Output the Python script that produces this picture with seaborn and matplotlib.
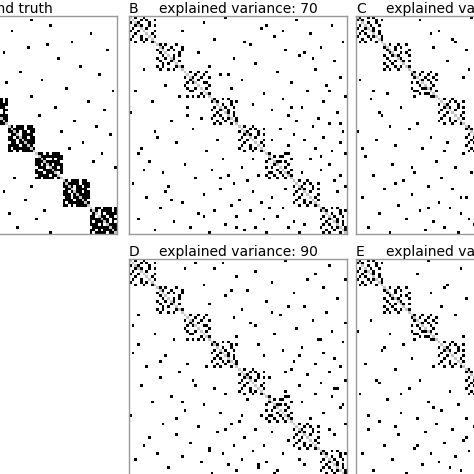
import numpy as np
import matplotlib
matplotlib.use("Agg")
import matplotlib.pyplot as plt
import seaborn as sns
from matplotlib.colors import ListedColormap

N = 80
BLOCK = 10

# block patterns
dense_a = ["##.###.##.", "#.####.###", "####.##.##", ".###.####.", "##.####.##",
           "###.#.####", ".##.######", "####.##.#.", "#.######.#", "##.#.#####"]
dense_b = ["#.##.###.#", "###.####.#", ".##.#.####", "##.###.##.", "####.##.##",
           "#.#####.#.", "###.#.####", ".######.##", "##.#.#####", "#.####.##."]
sparse_a = ["#.#..#....", ".#..#.#..#", "#..#...#..", "..#.#..#.#", ".#....#...",
            "#..#.#...#", "..#...#.#.", ".#..#....#", "#...#.#...", "..#..#..#."]
sparse_b = [".#..#.#...", "#.#....#.#", "..#.#..#..", ".#...#..#.", "#..#..#...",
            "..#...#.#.", ".#.#....#.", "#...#.#..#", "..#..#...#", ".#.#...#.."]

# off-block edges (row, col), mirrored
gt_rows = [2, 3, 5, 6, 8, 9, 11, 12, 14, 15, 17, 18, 20, 21, 23, 24, 26, 27, 29, 31, 33, 34, 36, 38, 40, 42, 43, 46, 48, 50, 53, 55, 4, 7, 13, 19, 1, 10]
gt_cols = [30, 55, 41, 70, 22, 63, 47, 76, 35, 58, 29, 66, 44, 73, 52, 39, 61, 78, 48, 69, 57, 75, 51, 64, 72, 59, 77, 67, 62, 74, 71, 79, 15, 26, 38, 33, 48, 54]

b_rows = [0, 1, 2, 3, 4, 5, 6, 7, 8, 9, 10, 11, 12, 13, 14, 15, 16, 17, 18, 19, 20, 21, 22, 23, 24, 25, 26, 27, 28, 29,
          30, 31, 32, 33, 34, 35, 36, 37, 38, 39, 40, 41, 42, 43, 44, 45, 46, 47, 48, 49, 50, 52, 54, 56, 58, 60, 62, 64, 3, 9, 15, 21, 27, 33, 39, 45, 51, 57, 5, 13]
b_cols = [35, 61, 27, 74, 48, 19, 66, 53, 31, 78, 44, 70, 57, 25, 62, 38, 75, 46, 29, 68, 54, 33, 77, 41, 59, 72, 37, 65, 49, 79,
          56, 71, 45, 63, 52, 76, 58, 69, 61, 73, 67, 55, 78, 60, 71, 64, 77, 58, 68, 74, 79, 66, 73, 70, 77, 75, 79, 76, 50, 42, 67, 36, 73, 59, 77, 52, 70, 63, 56, 64]

c_rows = [0, 1, 2, 3, 4, 5, 6, 7, 8, 9, 10, 11, 12, 13, 14, 15, 16, 17, 18, 19, 20, 21, 22, 23, 24, 25, 26, 27, 28, 29,
          30, 31, 32, 33, 34, 35, 36, 37, 38, 39, 40, 41, 42, 43, 44, 45, 46, 47, 48, 49, 51, 53, 55, 57, 59, 61, 63, 65, 2, 8, 14, 20, 26, 32, 38, 44, 50, 56, 6, 12]
c_cols = [42, 23, 66, 51, 77, 30, 58, 45, 72, 36, 63, 28, 79, 54, 47, 69, 33, 60, 74, 41, 65, 57, 39, 71, 48, 78, 62, 44, 75, 53,
          68, 59, 77, 46, 70, 63, 55, 79, 72, 50, 66, 74, 57, 76, 69, 61, 78, 65, 73, 71, 75, 67, 79, 72, 77, 74, 78, 76, 48, 35, 61, 55, 70, 49, 66, 58, 74, 69, 27, 40]

d_rows = [0, 1, 2, 3, 4, 5, 6, 7, 8, 9, 10, 11, 12, 13, 14, 15, 16, 17, 18, 19, 20, 21, 22, 23, 24, 25, 26, 27, 28, 29,
          30, 31, 32, 33, 34, 35, 36, 37, 38, 39, 40, 41, 42, 43, 44, 45, 46, 47, 48, 49, 50, 52, 54, 56, 58, 60, 62, 64, 1, 7, 11, 17, 23, 29, 35, 41, 47, 53, 3, 19]
d_cols = [57, 34, 73, 20, 46, 68, 39, 79, 52, 27, 71, 43, 60, 35, 76, 50, 29, 64, 41, 72, 55, 38, 67, 79, 46, 61, 74, 53, 39, 70,
          78, 47, 63, 56, 71, 49, 75, 60, 68, 77, 59, 73, 65, 51, 79, 70, 62, 76, 57, 68, 74, 63, 77, 71, 66, 79, 73, 75, 24, 65, 37, 58, 44, 69, 62, 57, 75, 78, 31, 52]

e_rows = [0, 1, 2, 3, 4, 5, 6, 7, 8, 9, 10, 11, 12, 13, 14, 15, 16, 17, 18, 19, 20, 21, 22, 23, 24, 25, 26, 27, 28, 29,
          30, 31, 32, 33, 34, 35, 36, 37, 38, 39, 40, 41, 42, 43, 44, 45, 46, 47, 48, 49, 51, 53, 55, 57, 59, 61, 63, 65, 4, 10, 16, 22, 28, 34, 40, 46, 52, 58, 8, 14]
e_cols = [26, 49, 71, 38, 62, 22, 77, 44, 59, 33, 68, 51, 27, 73, 40, 64, 56, 31, 78, 47, 36, 69, 58, 44, 75, 63, 52, 71, 39, 60,
          74, 55, 67, 79, 48, 62, 72, 53, 77, 66, 58, 70, 79, 61, 73, 56, 67, 78, 71, 63, 76, 69, 74, 66, 79, 72, 77, 75, 57, 32, 49, 68, 54, 76, 65, 79, 73, 68, 45, 61]

panels = [
    ("A", "Ground truth", [dense_a, dense_b], gt_rows, gt_cols, (-101, 16)),
    ("B", "explained variance: 70", [sparse_a, sparse_b], b_rows, b_cols, (129, 16)),
    ("C", "explained variance: 80", [sparse_b, sparse_a], c_rows, c_cols, (356, 16)),
    ("D", "explained variance: 90", [sparse_a, sparse_b], d_rows, d_cols, (129, 259)),
    ("E", "explained variance: 95", [sparse_b, sparse_a], e_rows, e_cols, (356, 259)),
]


def build(patterns, rows, cols):
    m = np.zeros((N, N))
    for k in range(N // BLOCK):
        pat = patterns[k % len(patterns)]
        blk = np.array([[c == "#" for c in r] for r in pat], dtype=float)
        if k % 3 == 2:
            blk = blk.T
        if k % 4 == 1:
            blk = blk[::-1]
        s = k * BLOCK
        m[s:s + BLOCK, s:s + BLOCK] = blk * 2
    for r, c in zip(rows, cols):
        m[r, c] = 2
        m[c, r] = 2
    np.fill_diagonal(m, 1)
    return m


cmap = ListedColormap(["white", "#c4c4c4", "black"])
W = 474
size = 218
fig = plt.figure(figsize=(4.74, 4.74), dpi=100)

for letter, title, pats, rr, cc, (x0, y0) in panels:
    ax = fig.add_axes([x0 / W, 1 - (y0 + size) / W, size / W, size / W])
    mat = build(pats, rr, cc)
    sns.heatmap(mat, cmap=cmap, vmin=0, vmax=2, cbar=False,
                xticklabels=False, yticklabels=False, ax=ax)
    for sp in ax.spines.values():
        sp.set_visible(True)
        sp.set_color("#999999")
        sp.set_linewidth(1)
    ax.set_title(title, fontsize=10, pad=2)
    ax.set_title(letter, fontsize=10, loc="left", pad=2)

fig.savefig("out.png", dpi=100)
